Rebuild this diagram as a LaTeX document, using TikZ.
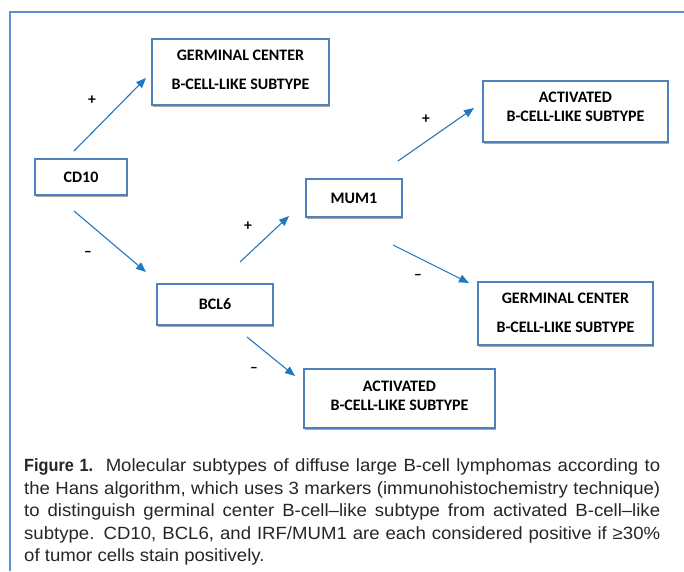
\documentclass[tikz,border=0pt]{standalone}
\usepackage{fontspec}
\setmainfont{Carlito}
\newfontfamily\capfont[FakeStretch=1.05, BoldFeatures={FakeStretch=0.92}]{Liberation Sans}
\usetikzlibrary{arrows.meta,shadows}
\definecolor{boxblue}{HTML}{4F81BD}
\definecolor{arrowblue}{HTML}{1F78C4}
\definecolor{frameblue}{HTML}{5B8FD3}
\tikzstyle{subtype}=[draw=boxblue, line width=2pt, fill=white, inner sep=0pt, align=center,
  font=\fontsize{16}{18}\selectfont\bfseries,
  drop shadow={shadow xshift=0.8pt, shadow yshift=-2pt, fill=black!35, opacity=1}]
\tikzstyle{sign}=[font=\fontsize{15.5}{18}\selectfont\bfseries, inner sep=0pt]
\tikzstyle{branch}=[draw=arrowblue, line width=1.1pt, -{Triangle[length=10pt,width=8pt]}]
\newcommand{\subtype}{\node[subtype]}
\newcommand{\sign}{\node[sign]}

\begin{document}
\begin{tikzpicture}[x=1pt,y=-1pt]
	\useasboundingbox[fill=white] (0,0) rectangle (684,571);
	\draw[frameblue, line width=2pt] (9.5,571) -- (9.5,12) -- (684,12);
	\subtype[minimum width=92pt, minimum height=36pt](cd10) at (81,177) {CD10};
	\subtype[minimum width=116pt, minimum height=41pt](bcl6) at (215,304.5) {BCL6};
	\subtype[minimum width=96pt, minimum height=38pt](mum1) at (354,198) {MUM1};
	\subtype[minimum width=177pt, minimum height=66pt](gcA) at (240.5,72) {GERMINAL CENTER\\[11pt]B-CELL-LIKE SUBTYPE\\[-14pt]\mbox{}};
	\subtype[minimum width=185pt, minimum height=61pt, font=\fontsize{16}{19}\selectfont\bfseries](actA) at (575.5,111.5) {ACTIVATED\\B-CELL-LIKE SUBTYPE\\[-9pt]\mbox{}};
	\subtype[minimum width=175pt, minimum height=63pt](gcB) at (565.5,313.5) {GERMINAL CENTER\\[11pt]B-CELL-LIKE SUBTYPE\\[-16pt]\mbox{}};
	\subtype[minimum width=191pt, minimum height=59pt, font=\fontsize{16}{19}\selectfont\bfseries](actB) at (399.5,398.5) {ACTIVATED\\B-CELL-LIKE SUBTYPE\\[-13pt]\mbox{}};
	\sign(p1) at (92,100) {+};
	\sign(m1) at (88,254) {--};
	\sign(p2) at (248,226) {+};
	\sign(p3) at (426,119) {+};
	\sign(m2) at (418,277) {--};
	\sign(m3) at (254,370) {--};
	\draw[branch] ([shift={(-7,-7)}]cd10.north) -- ([shift={(-5,6)}]gcA.west);
	\draw[branch] ([shift={(-7,15)}]cd10.south) -- ([shift={(-10,-11)}]bcl6.north west);
	\draw[branch] ([shift={(25,-21)}]bcl6.north) -- ([shift={(-16,18)}]mum1.west);
	\draw[branch] ([shift={(44,-17)}]mum1.north) -- ([shift={(-8,-3.5)}]actA.west);
	\draw[branch] ([shift={(39,27)}]mum1.south) -- ([shift={(-8,2)}]gcB.north west);
	\draw[branch] ([shift={(32,11)}]bcl6.south) -- ([shift={(-8,8)}]actB.north west);
	\node[anchor=north west, inner sep=0pt, text width=636pt, align=justify, text=black!85,
	  font=\capfont\fontsize{17.7}{22.6}\selectfont](caption) at (24,458.5)
	  {\textbf{Figure 1.}\ \ Molecular subtypes of diffuse large B-cell lymphomas according to\linebreak
	  the Hans algorithm, which uses 3 markers (immunohistochemistry technique)\linebreak
	  to distinguish germinal center B-cell–like subtype from activated B-cell–like\linebreak
	  subtype. CD10, BCL6, and IRF/MUM1 are each considered positive if ≥30\%\linebreak
	  of tumor cells stain positively.};
\end{tikzpicture}
\end{document}
